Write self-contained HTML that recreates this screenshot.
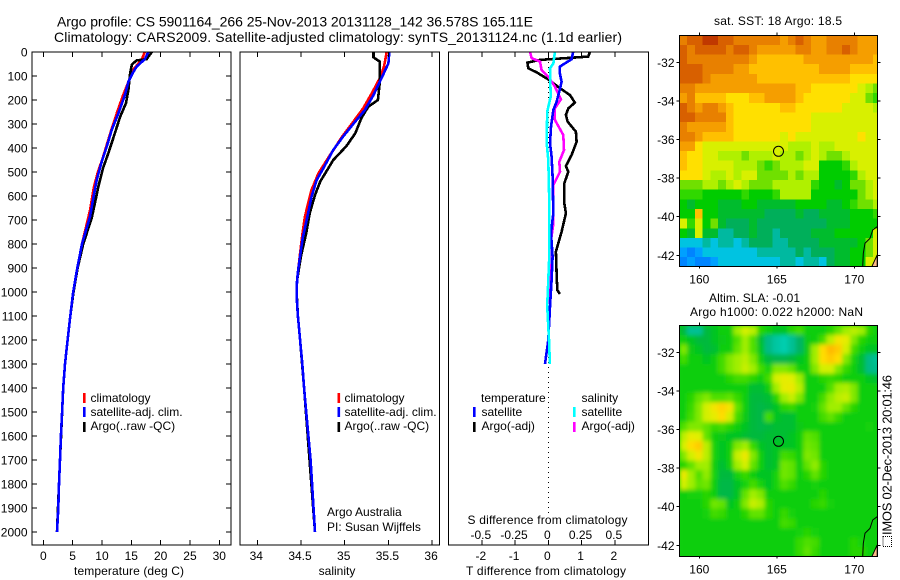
<!DOCTYPE html>
<html>
<head>
<meta charset="utf-8">
<title>Argo profile</title>
<style>
html,body{margin:0;padding:0;background:#fff;}
svg{display:block;}
text{font-family:"Liberation Sans",sans-serif;font-size:12px;fill:#000;}
.t{font-size:14px;}
</style>
</head>
<body>
<svg id="fig" xmlns="http://www.w3.org/2000/svg" width="900" height="580" viewBox="0 0 900 580">
<rect width="900" height="580" fill="#fff"/>
<text class="t" x="57" y="26.5" textLength="476">Argo profile: CS 5901164_266 25-Nov-2013 20131128_142 36.578S 165.11E</text>
<text class="t" x="54" y="42" textLength="568">Climatology: CARS2009. Satellite-adjusted climatology: synTS_20131124.nc (1.1d earlier)</text>
<defs>
<clipPath id="p1"><rect x="32" y="52" width="199" height="493"/></clipPath>
<clipPath id="p2"><rect x="240" y="52" width="199.5" height="493"/></clipPath>
<clipPath id="p3"><rect x="448.3" y="52" width="200.4" height="493"/></clipPath>
<clipPath id="m1"><rect x="679.3" y="35.3" width="198" height="231.4"/></clipPath>
<clipPath id="m2"><rect x="679.3" y="325.3" width="198" height="231.4"/></clipPath>
<filter id="soft" x="-5%" y="-5%" width="110%" height="110%"><feGaussianBlur stdDeviation="2"/></filter>
</defs>
<g id="plots"></g>

<text x="129" y="575" text-anchor="middle" textLength="110">temperature (deg C)</text>
<text x="337" y="575" text-anchor="middle">salinity</text>
<text x="546" y="575" text-anchor="middle" textLength="160">T difference from climatology</text>
<text x="547.5" y="524" text-anchor="middle" textLength="160">S difference from climatology</text>

<g>
<rect x="83" y="393" width="2.6" height="10" fill="#f00"/>
<rect x="83" y="407" width="2.6" height="10" fill="#00f"/>
<rect x="83" y="422" width="2.6" height="10" fill="#000"/>
<text x="90.5" y="402">climatology</text>
<text x="90.5" y="416">satellite-adj. clim.</text>
<text x="90.5" y="430">Argo(..raw -QC)</text>
</g>
<g>
<rect x="337.5" y="393" width="2.6" height="10" fill="#f00"/>
<rect x="337.5" y="407" width="2.6" height="10" fill="#00f"/>
<rect x="337.5" y="422" width="2.6" height="10" fill="#000"/>
<text x="344.5" y="402">climatology</text>
<text x="344.5" y="416">satellite-adj. clim.</text>
<text x="344.5" y="430">Argo(..raw -QC)</text>
<text x="327" y="516">Argo Australia</text>
<text x="327" y="531">PI: Susan Wijffels</text>
</g>
<g>
<text x="481" y="402">temperature</text>
<rect x="473" y="407" width="2.6" height="10" fill="#00f"/>
<rect x="473" y="422" width="2.6" height="10" fill="#000"/>
<text x="481.5" y="416">satellite</text>
<text x="481.5" y="430">Argo(-adj)</text>
<text x="581.5" y="402">salinity</text>
<rect x="573" y="407" width="2.6" height="10" fill="#0ff"/>
<rect x="573" y="422" width="2.6" height="10" fill="#f0f"/>
<text x="581.5" y="416">satellite</text>
<text x="581.5" y="430">Argo(-adj)</text>
</g>

<text x="778" y="25" text-anchor="middle" textLength="128">sat. SST: 18 Argo: 18.5</text>
<text x="754.5" y="302" text-anchor="middle" textLength="91">Altim. SLA: -0.01</text>
<text x="776.5" y="316" text-anchor="middle" textLength="173">Argo h1000: 0.022 h2000: NaN</text>

<rect x="883" y="536.5" width="8.5" height="10" fill="none" stroke="#000" stroke-width="1" stroke-dasharray="1 1"/>
<text style="font-size:13px" transform="translate(891.5,535) rotate(-90)" textLength="160">IMOS 02-Dec-2013 20:01:46</text>
</svg>

<script>
/* ---------- axis tick values ---------- */
var depthTicks = [0,100,200,300,400,500,600,700,800,900,1000,1100,1200,1300,1400,1500,1600,1700,1800,1900,2000];
var tempTicks = [0,5,10,15,20,25,30];
var salTicks = [34,34.5,35,35.5,36];
var salTickLabels = ["34","34.5","35","35.5","36"];
var tDiffTicks = [-2,-1,0,1,2];
var sDiffTicks = [-0.5,-0.25,0,0.25,0.5];
var sDiffTickLabels = ["-0.5","-0.25","0","0.25","0.5"];
var lonTicks = [160,165,170];
var latTicks = [-32,-34,-36,-38,-40,-42];

/* ---------- temperature panel ---------- */
var argoTempDepth = [0,30,35,52,89,158,213,269,338,421,483,560,630,692,800,900,1000,1100,1200,1300,1400,1700,2000];
var argoTempValue = [18.5,17.6,15.9,15.1,14.8,14.5,14.1,13.1,12.2,11.1,10.2,9.4,8.8,8.25,6.8,5.85,5.15,4.6,4.15,3.7,3.4,2.85,2.33];
var climTempDepth = [0,30,75,125,180,250,340,444,500,565,660,800,900,1000,1100,1200,1300,1400,1700,2000];
var climTempValue = [17.3,16.8,15.3,14.5,13.6,12.6,11.4,10.1,9.3,8.6,7.96,6.6,5.8,5.1,4.6,4.15,3.7,3.4,2.85,2.33];
var satTempDepth = [0,30,61,89,124,179,255,325,395,457,533,611,686,800,900,1000,1100,1200,1300,1400,1500,1600,1700,1800,1900,2000];
var satTempValue = [17.9,17.3,15.9,15.2,14.5,13.9,12.8,11.65,10.8,9.95,9.1,8.5,7.96,6.6,5.8,5.1,4.6,4.15,3.7,3.4,3.2,3.0,2.85,2.68,2.56,2.33];

/* ---------- salinity panel ---------- */
var argoSalDepth = [0,22,40,130,200,228,276,339,392,450,540,596,672,755,850,950,1000,1100,1200,1400,2000];
var argoSalValue = [35.33,35.33,35.4,35.4,35.38,35.27,35.19,35.12,35.02,34.87,34.72,34.66,34.6,34.56,34.5,34.455,34.45,34.465,34.49,34.535,34.66];
var climSalDepth = [0,61,110,172,235,290,353,442,505,575,686,775,900,950,1000,1050,1100,1200,1300,1400,1500,1700,2000];
var climSalValue = [35.48,35.45,35.4,35.31,35.21,35.1,34.97,34.81,34.7,34.62,34.545,34.51,34.47,34.455,34.45,34.455,34.465,34.49,34.515,34.535,34.56,34.61,34.66];
var satSalDepth = [0,47,110,179,242,290,353,408,485,533,603,700,775,900,950,1000,1050,1100,1200,1300,1400,1500,1700,2000];
var satSalValue = [35.51,35.5,35.42,35.33,35.23,35.12,34.98,34.87,34.755,34.68,34.62,34.565,34.52,34.47,34.455,34.45,34.455,34.465,34.49,34.515,34.535,34.56,34.61,34.66];

/* ---------- difference panel ---------- */
var argoTDiffDepth = [0,19,33,44,68,85,114,151,179,211,235,262,290,332,374,429,475,499,547,630,672,749,832,922,992,1008];
var argoTDiffValue = [1.25,1.2,-0.25,-0.63,-0.6,-0.35,0,0.35,0.65,0.8,0.6,0.53,0.58,0.83,0.85,0.7,0.53,0.6,0.48,0.48,0.53,0.4,0.23,0.25,0.27,0.35];
var argoSDiffDepth = [0,26,40,75,103,144,197,235,283,346,408,457,499,554,713,783,900,1050];
var argoSDiffValue = [-0.1375,-0.125,-0.0625,-0.05,0,0.05,0.095,0.05,0.05,0.113,0.118,0.083,0.088,0.038,0.038,0.02,0.012,0.01];
var satTDiffDepth = [0,30,61,89,124,165,207,242,311,381,436,519,672,755,853,950,1061,1200,1300];
var satTDiffValue = [0.75,0.7,0.35,0.35,0.4,0.33,0.25,0.15,0.08,0.05,0.1,0.13,0.15,0.08,0.13,0.1,0.05,0,-0.1];
var satSDiffDepth = [0,47,68,186,249,381,450,645,838,950,1058,1200,1300];
var satSDiffValue = [0.05,0.038,0.013,0.018,-0.008,-0.012,0,0.008,0.008,0,-0.008,0.005,0.012];

/* ---------- maps: half-degree cells from the NW corner, SST in deg C ---------- */
var sstGrid = [
[20,20.5,20.5,21,21,20.5,20.5,20,20,20,20,20,20,19.5,20,20.5,20,19.5,19.5,20,20,20,20,19.5,19.5,19.5],
[20.5,20,20.5,20.5,20.5,20.5,20,20.5,20.5,20,19.5,19.5,19.5,19.5,19.5,20,20,19.5,19.5,20,20,20.5,20,19.5,19.5,19.5],
[20.5,20,20,20,20,20,20,20,20,19.5,19,19,19,19,19,19,19.5,19.5,19.5,19.5,19.5,19.5,19.5,19.5,19.5,19],
[20.5,20.5,20.5,20,20,20,20,19.5,19.5,19,19,19,19,19,19,19,19,19,19.5,19.5,19.5,19.5,19,19,19,19],
[20.5,20.5,20.5,20,19.5,19.5,19.5,19.5,19.5,19.5,19,19,19,19,19,19,19,19,19,19,19,19,18.5,18.5,18.5,18.5],
[20,20,19.5,19.5,19.5,19.5,19.5,19.5,19.5,19.5,19.5,19.5,19.5,19.5,19.5,19,19,18.5,18.5,18.5,18.5,18.5,18.5,18,17.5,17],
[19.5,20,19,19,19,19,18.5,18.5,18.5,19,19,19.5,19.5,19.5,19.5,19,18.5,18.5,18.5,18.5,18.5,18.5,18,18,17,16.5],
[20.5,20,19.5,20,20,19.5,19,18.5,18.5,18.5,18.5,18.5,18.5,19,19,18.5,18.5,18.5,18.5,18.5,18.5,18,18,18,18,17.5],
[20.5,20.5,20,20,20,20,19,18.5,18.5,18.5,18.5,18.5,18.5,18.5,18.5,18.5,18.5,18,18,18,18,18,18,18,18,18],
[20,19.5,19.5,19.5,19.5,19.5,19,18.5,18.5,18.5,18.5,18.5,18.5,18.5,18.5,18.5,18.5,18,18,18,18,18,18,18,18,18],
[20,20,19.5,19,19,19,19,18.5,18.5,18.5,18.5,18.5,18.5,18,18.5,18,18,18,18,18,18,18,18,18.5,18,18],
[19.5,19.5,18.5,18,18,18,18,18,18,18,18,18,18,18,17.5,17.5,17.5,18,17.5,17.5,18,18,18,18,18,18],
[19,18.5,18.5,18,18,17.5,17.5,17.5,17,17.5,17.5,17.5,18,17.5,17.5,17,17.5,18,17.5,17,17,17.5,18,18,18,18],
[19,18.5,18.5,18,18,18,18,17.5,17.5,17.5,17,16.5,17,17.5,17.5,17.5,18,18,16,16,16,16.5,17.5,18,18,18],
[18.5,18.5,18.5,18,17.5,17.5,18,17.5,18,18,17,17,17,17,17.5,17,17.5,17.5,16,16,16,16,16.5,17.5,18,18],
[17,17,17,17.5,17.5,17,17.5,18,17.5,17,17,17,17.5,17.5,17.5,17.5,17.5,16.5,16,16,15.5,16,17,17,17.5,18],
[16.5,16.5,16.5,16,16,16,16,16,16.5,16,16,16,16.5,17.5,17.5,17.5,17.5,16,16,16,16,16,16,17,17.5,18],
[16,15.5,16,16,16,15.5,15.5,15.5,16,16,15.5,15.5,15.5,15.5,15.5,16,16,16,16,15.5,15.5,16,16.5,17,17,17.5],
[16,16,19,16,16,15.5,15.5,15.5,15.5,15.5,15.5,15,15,15,15,15.5,15,15,15.5,15.5,15.5,15.5,16,16,16,16.5],
[18,16.5,18,16,17,15.5,15,15,15,15.5,15,15,15,15,15,15,15,15,15,15.5,15.5,15.5,16,16,16,16],
[16,15.5,18,15.5,15.5,14.5,14.5,15,15,15.5,15,15,14.5,15,15,15,15,15.5,15.5,15.5,16,16,16,16,16,18],
[14,14,14,14.5,14,14.5,14.5,14,14.5,15,15,15,14.5,14.5,15,15,15,15,15.5,15.5,15.5,15.5,15.5,16,17,18],
[13.5,13.3,13.5,14,14,14,14,14,14,14,14.5,14.5,14.5,14.5,14.5,15,14.5,15,15,15,15.5,15.5,16,16,17,18],
[13.3,13.5,13.3,13.3,13.5,14,14,14,14,14,14,14,14,14.5,14.5,14,14.5,14.5,14,15,15.5,15.5,16,16,18,18]
];
/* SLA in cm */
var slaGrid = [
[-4,-14,-14,-4,-2,0,0,10,14,12,2,0,-2,-2,2,4,0,0,0,2,6,10,12,10,2,0],
[0,-2,-4,-4,-2,-1,0,5,10,5,-3,-12,-16,-18,-14,-8,-1,0,4,12,18,16,8,2,0,0],
[8,-1,-2,-4,-3,0,0,6,10,5,-2,-12,-16,-18,-14,-8,-1,10,20,28,24,14,4,0,-2,-2],
[4,0,0,-2,0,4,8,10,12,8,0,-4,-6,-6,-4,-2,0,10,20,24,20,8,1,-3,-12,-14],
[0,0,0,0,0,4,8,10,13,10,4,1,8,8,6,0,0,8,14,14,8,3,0,-3,-12,-13],
[0,0,0,0,0,0,2,4,4,2,0,4,14,16,15,10,0,0,2,3,2,0,0,0,-2,-3],
[0,0,0,0,0,0,0,0,0,-3,-3,0,10,16,17,12,0,0,0,5,10,11,8,0,0,0],
[0,2,6,8,5,5,6,3,0,-4,-4,-3,2,10,13,8,0,0,4,9,12,13,8,0,0,0],
[0,3,8,14,18,22,18,6,0,-4,-5,-4,-2,2,3,0,0,1,6,10,10,6,2,0,0,0],
[0,4,8,14,16,20,14,4,-1,-4,-5,4,-2,-3,-3,0,0,0,4,6,3,0,0,0,0,0],
[5,8,8,6,3,4,2,0,-2,-4,-5,-4,-3,-3,-3,-1,0,0,0,0,0,0,0,0,1,0],
[12,16,15,6,0,-1,-2,-2,-3,-4,-4,-3,-3,-3,-2,0,6,5,0,0,0,0,0,0,0,0],
[14,20,24,12,1,-2,0,8,10,3,-2,-3,-2,-2,-2,0,7,6,0,0,0,0,0,0,0,0],
[8,14,18,12,1,-2,0,13,17,8,0,-3,-2,4,3,0,8,7,0,0,0,0,0,0,0,0],
[2,6,10,10,0,-3,0,10,14,6,0,-3,-2,7,6,0,6,9,2,0,0,0,0,0,0,0],
[17,10,5,9,1,-4,-4,1,3,0,-2,-2,1,7,6,0,2,6,2,0,0,0,0,0,0,0],
[14,10,6,7,0,-5,-5,-2,1,4,1,-2,1,5,3,0,0,1,0,0,0,0,0,0,0,0],
[0,1,1,2,0,-5,-5,-2,6,10,8,0,0,0,0,0,0,0,2,0,0,0,0,0,0,0],
[0,0,0,2,7,6,-2,0,8,13,11,2,0,0,0,0,0,2,3,1,0,0,0,0,0,0],
[0,0,0,1,4,3,0,0,2,6,6,2,0,3,1,0,0,0,0,0,0,0,0,0,0,0],
[0,0,0,0,0,0,0,0,0,0,0,0,0,4,3,0,0,0,0,0,0,0,0,0,0,0],
[0,0,0,0,0,0,0,0,0,0,0,0,0,0,0,1,2,1,0,0,0,0,0,0,0,0],
[0,0,0,0,0,0,0,0,0,0,0,0,0,0,0,3,5,4,0,0,0,0,2,1,0,0],
[0,0,0,0,0,0,0,0,0,0,0,0,0,0,0,3,6,3,0,0,0,0,2,2,0,0]
];
var floatLon = 165.11;
var floatLat = -36.578;
var coastLon = [171.48,171.19,171.01,170.69,170.58,170.54];
var coastLat = [-40.52,-40.69,-41.12,-41.38,-41.9,-42.6];
var landLon = [171.12,171.48,171.48];
var landLat = [-42.6,-41.98,-42.6];

/* ---------- axis functions ---------- */
function depthY(d){return 52+0.24*d;}
function tempX(t){return 43.3+5.867*t;}
function salX(s){return 257.3+87.4*(s-34);}
function tDiffX(t){return 548.3+33.25*t;}
function sDiffX(s){return 548.3+133*s;}
function lonX(l){return 699.3+(l-160)*15.5;}
function latY(l){return 62.3+(-32-l)*19.3;}

var NS='http://www.w3.org/2000/svg';
var plots=document.getElementById('plots');
function mk(tag,parent){var e=document.createElementNS(NS,tag);parent.appendChild(e);return e;}
function lerp(stops,v){
  if(v<=stops[0][0])return 'rgb('+stops[0][1].join(',')+')';
  for(var i=1;i<stops.length;i++){
    if(v<=stops[i][0]){
      var a=stops[i-1],b=stops[i],f=(v-a[0])/(b[0]-a[0]);
      return 'rgb('+[0,1,2].map(function(k){return Math.round(a[1][k]+(b[1][k]-a[1][k])*f);}).join(',')+')';
    }
  }
  return 'rgb('+stops[stops.length-1][1].join(',')+')';
}
var sstColors=[[13,[0,90,255]],[13.5,[0,160,255]],[14,[0,195,225]],[14.5,[0,185,160]],[15,[0,175,90]],[15.5,[0,188,45]],[16,[0,204,0]],[16.5,[48,216,0]],[17,[112,224,0]],[17.5,[176,240,0]],[18,[216,240,0]],[18.5,[255,224,0]],[19,[255,192,0]],[19.5,[245,158,0]],[20,[232,128,0]],[20.5,[216,96,0]],[21,[192,56,0]]];
var slaColors=[[-18,[0,205,175]],[-10,[0,178,120]],[-4,[0,185,60]],[0,[10,206,10]],[5,[80,224,0]],[10,[160,238,0]],[15,[224,240,0]],[20,[255,221,0]],[28,[255,185,0]]];

function frame(x,y,w,h,name){
  var r=mk('rect',plots);
  
  
  r.setAttribute('x',x);r.setAttribute('y',y);r.setAttribute('width',w);r.setAttribute('height',h);
  r.setAttribute('fill','none');r.setAttribute('stroke','#000');r.setAttribute('stroke-width','1');
  r.setAttribute('shape-rendering','crispEdges');
}
function tick(x1,y1,x2,y2){
  var l=mk('line',plots);
  
  
  l.setAttribute('x1',x1);l.setAttribute('y1',y1);l.setAttribute('x2',x2);l.setAttribute('y2',y2);
  l.setAttribute('stroke','#000');l.setAttribute('stroke-width','1');l.setAttribute('shape-rendering','crispEdges');
}
function label(x,y,s,anchor){
  var t=mk('text',plots);
  
  
  t.setAttribute('x',x);t.setAttribute('y',y);t.setAttribute('text-anchor',anchor||'middle');
  t.textContent=s;
}
function series(depths,values,xf,color,clip,name,w){
  var p=mk('polyline',plots);
  
  
  p.setAttribute('points',depths.map(function(d,i){return xf(values[i]).toFixed(1)+','+depthY(d).toFixed(1);}).join(' '));
  p.setAttribute('fill','none');p.setAttribute('stroke',color);p.setAttribute('stroke-width',w||2.6);
  p.setAttribute('clip-path','url(#'+clip+')');p.setAttribute('shape-rendering','crispEdges');
}

/* temperature panel */
series(climTempDepth,climTempValue,tempX,'#f00','p1','climatology-temperature-line');
series(argoTempDepth,argoTempValue,tempX,'#000','p1','argo-temperature-line');
series(satTempDepth,satTempValue,tempX,'#00f','p1','satellite-temperature-line');
frame(32,52,199,493,'temperature-panel-frame');
depthTicks.forEach(function(d){
  tick(32,depthY(d),37,depthY(d));
  tick(226,depthY(d),231,depthY(d));
  label(27.5,depthY(d)+4.5,String(d),'end');
});
tempTicks.forEach(function(t){
  tick(tempX(t),52,tempX(t),57);
  tick(tempX(t),540,tempX(t),545);
  label(tempX(t),560,String(t));
});

/* salinity panel */
series(climSalDepth,climSalValue,salX,'#f00','p2','climatology-salinity-line');
series(argoSalDepth,argoSalValue,salX,'#000','p2','argo-salinity-line');
series(satSalDepth,satSalValue,salX,'#00f','p2','satellite-salinity-line');
frame(240,52,199.5,493,'salinity-panel-frame');
salTicks.forEach(function(s,i){
  tick(salX(s),52,salX(s),57);
  tick(salX(s),540,salX(s),545);
  label(salX(s)-1,560,salTickLabels[i]);
});

/* difference panel */
var zeroLine=mk('line',plots);


zeroLine.setAttribute('x1',tDiffX(0));zeroLine.setAttribute('x2',tDiffX(0));
zeroLine.setAttribute('y1',52);zeroLine.setAttribute('y2',514);
zeroLine.setAttribute('stroke','#000');zeroLine.setAttribute('stroke-width','1');zeroLine.setAttribute('stroke-dasharray','1 4');
zeroLine.setAttribute('shape-rendering','crispEdges');
series(argoTDiffDepth,argoTDiffValue,tDiffX,'#000','p3','argo-t-difference-line');
series(argoSDiffDepth,argoSDiffValue,sDiffX,'#f0f','p3','argo-s-difference-line');
series(satTDiffDepth,satTDiffValue,tDiffX,'#00f','p3','satellite-t-difference-line');
series(satSDiffDepth,satSDiffValue,sDiffX,'#0ff','p3','satellite-s-difference-line');
frame(448.3,52,200.4,493,'difference-panel-frame');
tDiffTicks.forEach(function(t){
  tick(tDiffX(t),52,tDiffX(t),57);
  tick(tDiffX(t),540,tDiffX(t),545);
  label(tDiffX(t)-1,560,String(t));
});
sDiffTicks.forEach(function(s,i){
  label(sDiffX(s)-1,539,sDiffTickLabels[i]);
});

/* maps */
function drawMap(grid,stops,offset,clip,name,soft){
  var outer=mk('g',plots);
  
  
  outer.setAttribute('clip-path','url(#'+clip+')');
  var bg=mk('rect',outer);
  
  
  bg.setAttribute('x',679);bg.setAttribute('y',35+offset);bg.setAttribute('width',199);bg.setAttribute('height',232);
  bg.setAttribute('fill',lerp(stops,stops===slaColors?0:16));
  var g=mk('g',outer);
  if(soft)g.setAttribute('filter','url(#soft)');
  grid.forEach(function(row,j){
    row.forEach(function(v,i){
      var lonL=158.71+i*0.5, latT=-30.6-j*0.5;
      var r=mk('rect',g);
      
      
      r.setAttribute('x',lonX(lonL).toFixed(2));
      r.setAttribute('y',(latY(latT)+offset).toFixed(2));
      r.setAttribute('width',(lonX(lonL+0.5)-lonX(lonL)+0.3).toFixed(2));
      r.setAttribute('height',(latY(latT-0.5)-latY(latT)+0.3).toFixed(2));
      r.setAttribute('fill',lerp(stops,v));
      r.setAttribute('shape-rendering','crispEdges');
    });
  });
  var land=mk('polygon',outer);
  
  
  land.setAttribute('points',landLon.map(function(l,i){return lonX(l).toFixed(1)+','+(latY(landLat[i])+offset).toFixed(1);}).join(' '));
  land.setAttribute('fill','#ffbb88');land.setAttribute('stroke','#000');land.setAttribute('stroke-width','1');
  var coast=mk('polyline',outer);
  
  
  coast.setAttribute('points',coastLon.map(function(l,i){return lonX(l).toFixed(1)+','+(latY(coastLat[i])+offset).toFixed(1);}).join(' '));
  coast.setAttribute('fill','none');coast.setAttribute('stroke','#000');coast.setAttribute('stroke-width','1');
  var c=mk('circle',outer);
  
  
  c.setAttribute('cx',lonX(floatLon).toFixed(1));
  c.setAttribute('cy',(latY(floatLat)+offset+0.6).toFixed(1));
  c.setAttribute('r',5);c.setAttribute('fill','none');c.setAttribute('stroke','#000');c.setAttribute('stroke-width','1');
  var top=35.3+offset, bot=266.7+offset;
  frame(679.3,top,198,231.4,name+'-frame');
  lonTicks.forEach(function(l){
    tick(lonX(l),top-3,lonX(l),top);
    tick(lonX(l),bot,lonX(l),bot+2);
    label(lonX(l),bot+17,String(l));
  });
  latTicks.forEach(function(l){
    tick(676.3,latY(l)+offset,679.3,latY(l)+offset);
    tick(877.3,latY(l)+offset,880.3,latY(l)+offset);
    label(674.5,latY(l)+offset+4.5,String(l),'end');
  });
}
drawMap(sstGrid,sstColors,0,'m1','sst-map',false);
drawMap(slaGrid,slaColors,290,'m2','sla-map',true);
</script>
</body>
</html>
